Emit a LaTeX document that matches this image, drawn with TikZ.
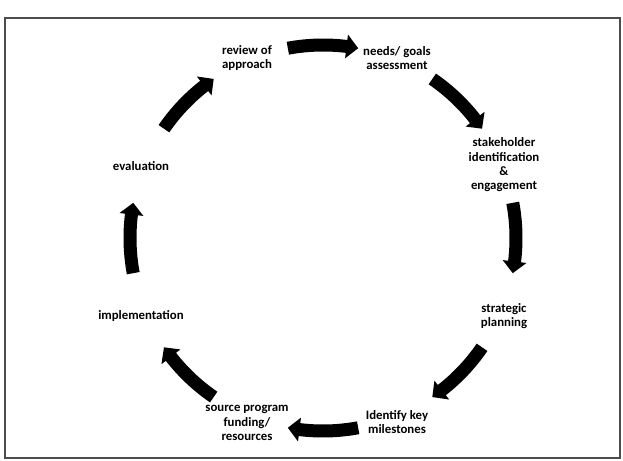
\documentclass[tikz,border=0pt]{standalone}
\usepackage{fontspec}
\setmainfont{Carlito}
\usepackage{tikz}

\tikzset{
  steptext/.style={anchor=center,inner sep=0.75pt,align=center,font=\bfseries\fontsize{12.8}{14.3}\selectfont}
}

\begin{document}
\begin{tikzpicture}[x=1pt,y=1pt,yscale=-1,xscale=1]
\useasboundingbox (0,0) rectangle (623,460);

%Frame
\draw[line width=1.6pt,color=black!70] (5,18) rectangle (620,458);

%Block arrows round the cycle (flip y back so angles run counterclockwise)
\begin{scope}[shift={(323,238)},yscale=-1]
\foreach \a [evaluate=\a as \s using \a+10.5,
             evaluate=\a as \e using \a-7,
             evaluate=\a as \t using \a-10.5] in {90,45,0,-45,-90,-135,-180,-225}
  \fill ({\s}:199.5) arc[start angle=\s,end angle=\e,radius=199.5]
        -- ({\e}:205) -- ({\t}:193) -- ({\e}:181) -- ({\e}:186.5)
        arc[start angle=\e,end angle=\s,radius=186.5] -- cycle;
\end{scope}

% Text Node
\node[steptext] (review) at (247,58) {review of\\approach};
% Text Node
\node[steptext] (needs) at (397,58) {needs/ goals\\assessment};
% Text Node
\node[steptext] (stake) at (504,165) {stakeholder\\identification\\\&\\engagement};
% Text Node
\node[steptext] (plan) at (504,316) {strategic\\planning};
% Text Node
\node[steptext] (miles) at (397,422) {Identify key\\milestones};
% Text Node
\node[steptext] (fund) at (247,423) {source program\\funding/\\resources};
% Text Node
\node[steptext] (impl) at (141,316) {implementation};
% Text Node
\node[steptext] (eval) at (141,166) {evaluation};

\end{tikzpicture}
\end{document}
